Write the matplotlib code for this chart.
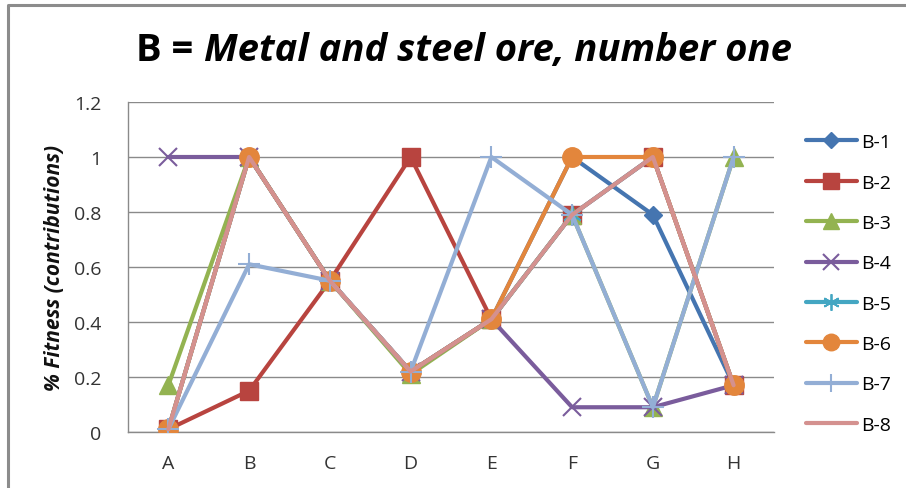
import matplotlib
matplotlib.use("Agg")
import matplotlib.pyplot as plt
from matplotlib.lines import Line2D

plt.rcParams['font.family'] = ['Open Sans', 'DejaVu Sans']

categories = ['A', 'B', 'C', 'D', 'E', 'F', 'G', 'H']
y_ticks = [0, 0.2, 0.4, 0.6, 0.8, 1, 1.2]
y_tick_labels = ['0', '0.2', '0.4', '0.6', '0.8', '1', '1.2']

series_names = ['B-1', 'B-2', 'B-3', 'B-4', 'B-5', 'B-6', 'B-7', 'B-8']
b1 = [0.01, 1.00, 0.55, 0.22, 0.41, 1.00, 0.79, 0.17]
b2 = [0.01, 0.15, 0.55, 1.00, 0.41, 0.79, 1.00, 0.17]
b3 = [0.17, 1.00, 0.55, 0.21, 0.41, 0.79, 0.09, 1.00]
b4 = [1.00, 1.00, 0.55, 0.22, 0.41, 0.09, 0.09, 0.17]
b5 = [0.01, 1.00, 0.55, 0.22, 0.41, 0.79, 1.00, 0.17]
b6 = [0.01, 1.00, 0.55, 0.22, 0.41, 1.00, 1.00, 0.17]
b7 = [0.01, 0.61, 0.55, 0.22, 1.00, 0.79, 0.09, 1.00]
b8 = [0.01, 1.00, 0.55, 0.22, 0.41, 0.79, 1.00, 0.17]
series_values = [b1, b2, b3, b4, b5, b6, b7, b8]

# (colour, marker, marker size, marker edge width) per series
styles = [
    ('#4575B0', 'D', 9.5, 1.0),
    ('#B8443F', 's', 13, 1.0),
    ('#93B351', '^', 13, 1.0),
    ('#7A5C9C', 'x', 13, 1.5),
    ('#44A6C2', (6, 2, 0), 14, 1.3),
    ('#E3863C', 'o', 14, 1.0),
    ('#93AED5', '+', 16, 1.5),
    ('#D4918F', None, 0, 0),
]

fig = plt.figure(figsize=(9.06, 4.89), dpi=100)
ax = fig.add_axes([128 / 906, 56 / 489, 646 / 906, 330 / 489])

x = list(range(len(categories)))
handles = []
for name, vals, (col, mk, ms, mew) in zip(series_names, series_values, styles):
    line, = ax.plot(x, vals, color=col, lw=3.0, marker=mk, markersize=ms,
                    markeredgewidth=mew, markerfacecolor=col,
                    markeredgecolor=col, solid_capstyle='round',
                    solid_joinstyle='round', label=name, zorder=3)
    handles.append(line)

ax.set_xlim(-0.5, len(categories) - 0.5)
ax.set_ylim(0, 1.2)
ax.set_xticks(x)
ax.set_xticklabels(categories)
ax.set_yticks(y_ticks)
ax.set_yticklabels(y_tick_labels)
ax.tick_params(axis='both', length=0, labelsize=14, labelcolor='#333333')
ax.tick_params(axis='y', pad=19)
ax.tick_params(axis='x', pad=16)
ax.yaxis.grid(True, color='#8A8A8A', lw=1.0)
ax.set_axisbelow(True)
for side in ('top', 'right'):
    ax.spines[side].set_visible(False)
for side in ('left', 'bottom'):
    ax.spines[side].set_color('#8A8A8A')
    ax.spines[side].set_linewidth(1.0)

ax.set_ylabel('% Fitness (contributions)', fontsize=15, fontweight='bold',
              style='italic', color='#111111')
ax.yaxis.set_label_coords(-63 / 646, 0.5)

fig.legend(handles=handles, loc='center left',
           bbox_to_anchor=(806 / 906, 1 - 284.5 / 489), frameon=False,
           fontsize=14, handlelength=2.6, handletextpad=0.25,
           labelspacing=1.15, borderpad=0, borderaxespad=0, numpoints=1,
           markerscale=0.85)

# Title: bold lead-in followed by bold italic description
renderer = fig.canvas.get_renderer()
title_y = 1 - 51 / 489
t1 = fig.text(0, title_y, 'B = ', fontsize=27.5, fontweight='bold',
              va='center', ha='left')
t2 = fig.text(0, title_y, 'Metal and steel ore, number one', fontsize=27.5,
              fontweight='bold', style='italic', va='center', ha='left')
w1 = t1.get_window_extent(renderer).width
w2 = t2.get_window_extent(renderer).width
start = 464 - (w1 + w2) / 2
t1.set_x(start / 906)
t2.set_x((start + w1) / 906)

# chart area border (top and left edges visible)
fig.add_artist(Line2D([8 / 906, 8 / 906, 1.0], [0.0, 1 - 6 / 489, 1 - 6 / 489],
                      transform=fig.transFigure, color='#8C8C8C', lw=2.2))

fig.savefig('out.png', dpi=100)
